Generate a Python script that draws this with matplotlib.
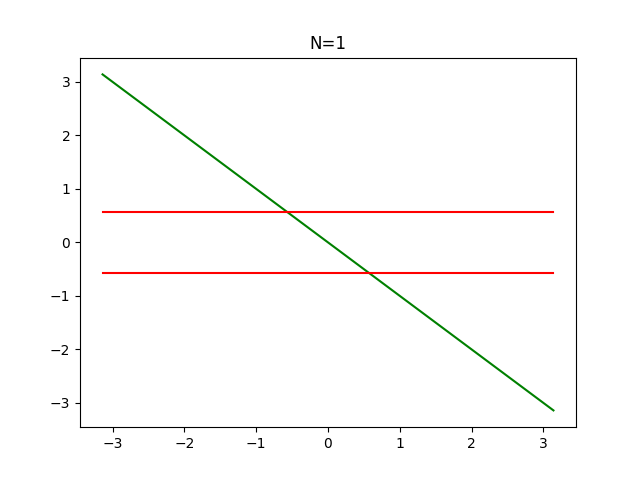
import matplotlib
matplotlib.use("Agg")
import matplotlib.pyplot as plt

x_vals = [-3.1416, 3.1416]
green_y = [3.1416, -3.1416]
red_upper = [0.57, 0.57]
red_lower = [-0.57, -0.57]
title = "N=1"

fig, ax = plt.subplots(figsize=(6.4, 4.8), dpi=100)
ax.plot(x_vals, green_y, color="green")
ax.plot(x_vals, red_upper, color="red")
ax.plot(x_vals, red_lower, color="red")
ax.set_title(title)
fig.savefig("out.png")
